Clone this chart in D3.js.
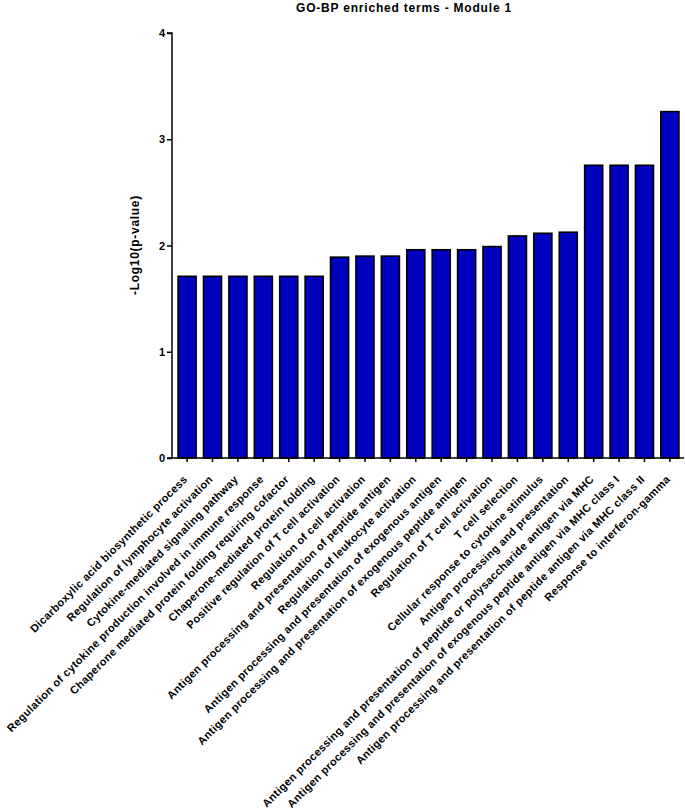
<!DOCTYPE html>
<html>
<head>
<meta charset="utf-8">
<script src="https://cdn.jsdelivr.net/npm/d3@7"></script>
<style>
  body { margin: 0; background: #fff; }
  text { font-family: "Liberation Sans", Arial, sans-serif; font-weight: bold; }
</style>
</head>
<body>
<svg id="chart"></svg>
<script>
// GO-BP terms (x categories), in plotted order
var terms = [
    "Dicarboxylic acid biosynthetic process",
    "Regulation of lymphocyte activation",
    "Cytokine-mediated signaling pathway",
    "Regulation of cytokine production involved in immune response",
    "Chaperone mediated protein folding requiring cofactor",
    "Chaperone-mediated protein folding",
    "Positive regulation of T cell activation",
    "Regulation of cell activation",
    "Antigen processing and presentation of peptide antigen",
    "Regulation of leukocyte activation",
    "Antigen processing and presentation of exogenous antigen",
    "Antigen processing and presentation of exogenous peptide antigen",
    "Regulation of T cell activation",
    "T cell selection",
    "Cellular response to cytokine stimulus",
    "Antigen processing and presentation",
    "Antigen processing and presentation of peptide or polysaccharide antigen via MHC",
    "Antigen processing and presentation of exogenous peptide antigen via MHC class I",
    "Antigen processing and presentation of peptide antigen via MHC class II",
    "Response to interferon-gamma"
];
// -log10(p-value)
var logP = [1.71, 1.71, 1.71, 1.71, 1.71, 1.71, 1.89, 1.90, 1.90, 1.96,
            1.96, 1.96, 1.99, 2.09, 2.115, 2.125, 2.755, 2.755, 2.755, 3.26];
var yTicks = [0, 1, 2, 3, 4];

var width = 685, height = 811;
var plot = { left: 172, right: 684, top: 33, bottom: 458 };

var svg = d3.select("#chart")
    .attr("width", width)
    .attr("height", height);

var x = d3.scaleBand()
    .domain(terms)
    .range([plot.left + 1, plot.right])
    .paddingInner(0.29)
    .paddingOuter(0.2);

var y = d3.scaleLinear()
    .domain([0, 4])
    .range([plot.bottom, plot.top]);

// bars
svg.append("g")
    .selectAll("rect")
    .data(logP)
    .enter()
    .append("rect")
    .attr("x", function(d, i) { return x(terms[i]); })
    .attr("y", function(d) { return y(d); })
    .attr("width", x.bandwidth())
    .attr("height", function(d) { return y(0) - y(d); })
    .style("fill", "#0000bf")
    .style("stroke", "#000")
    .style("stroke-width", 1.6);

// y axis
var yAxis = svg.append("g")
    .attr("transform", "translate(" + plot.left + ",0)")
    .call(d3.axisLeft(y).tickValues(yTicks).tickFormat(d3.format("d")).tickSize(5).tickPadding(2));
yAxis.select(".domain").attr("d", "M-5," + y(4) + "H0V" + y(0));

// x axis
var xAxis = svg.append("g")
    .attr("transform", "translate(0," + plot.bottom + ")")
    .call(d3.axisBottom(x).tickSize(4).tickFormat(""));
xAxis.select(".domain").attr("d", "M" + (plot.left - 5) + ",0H" + plot.right);

svg.selectAll(".domain, .tick line")
    .style("stroke", "#000")
    .style("stroke-width", 1.5);
yAxis.selectAll(".tick text")
    .style("font-size", "11px")
    .style("font-weight", "bold")
    .style("font-family", "'Liberation Sans', Arial, sans-serif")
    .style("fill", "#000");

// rotated category labels
svg.append("g")
    .selectAll("text")
    .data(terms)
    .enter()
    .append("text")
    .attr("text-anchor", "end")
    .attr("transform", function(d) {
        return "translate(" + (x(d) + x.bandwidth() / 2 + 1) + "," + (plot.bottom + 22) + ") rotate(-45)";
    })
    .style("font-size", "11px")
    .style("letter-spacing", "0.35px")
    .text(function(d) { return d; });

// y axis title
svg.append("text")
    .attr("text-anchor", "middle")
    .attr("transform", "translate(139,245) rotate(-90)")
    .style("font-size", "12px")
    .style("letter-spacing", "0.7px")
    .text("-Log10(p-value)");

// title
svg.append("text")
    .attr("x", 404)
    .attr("y", 12)
    .attr("text-anchor", "middle")
    .style("font-size", "12px")
    .style("letter-spacing", "0.8px")
    .text("GO-BP enriched terms - Module 1");
</script>
</body>
</html>
